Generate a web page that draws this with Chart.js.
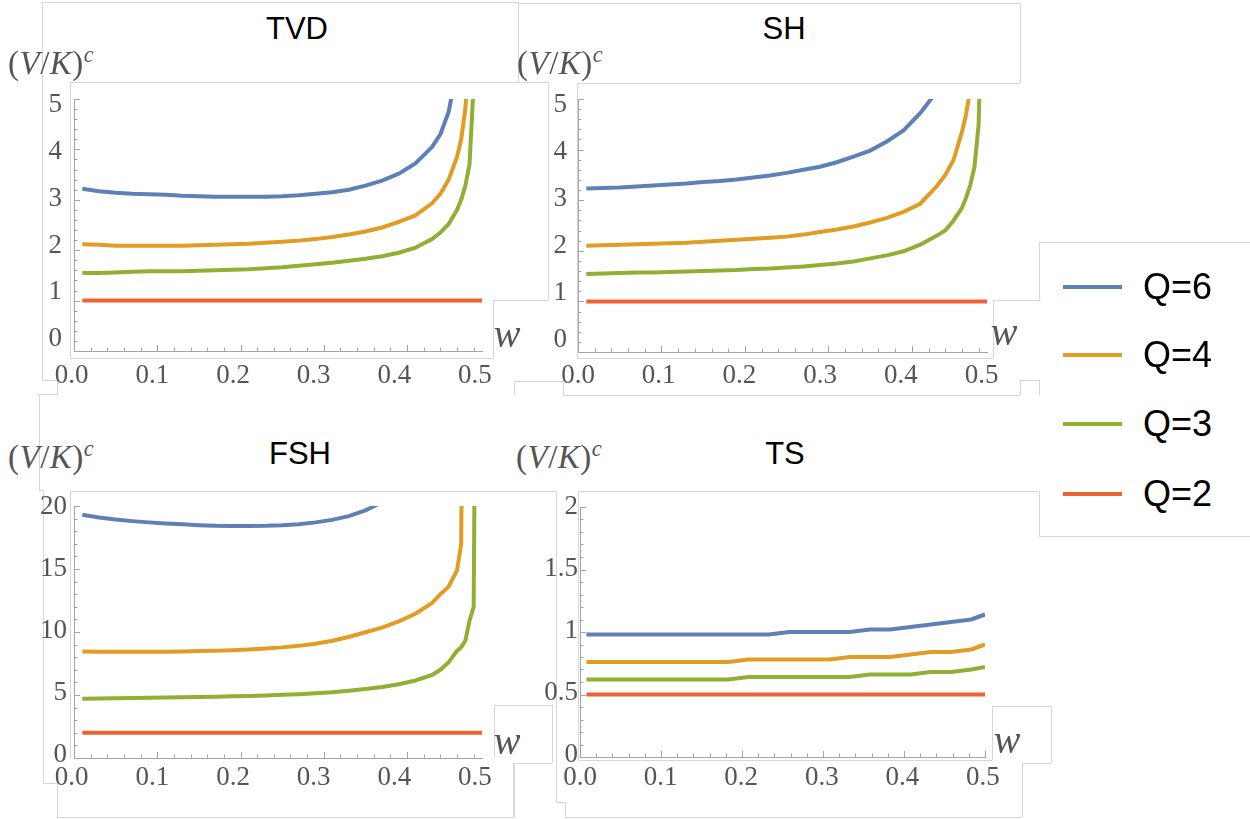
<!DOCTYPE html>
<html>
<head>
<meta charset="utf-8">
<script src="https://cdn.jsdelivr.net/npm/chart.js@4.4.0/dist/chart.umd.min.js"></script>
<style>
  html, body { margin: 0; padding: 0; background: #fff; }
  #stage { position: relative; width: 1250px; height: 819px; overflow: hidden; background: #fff; }
  canvas.plot { position: absolute; }
  .seg { position: absolute; background: #d6d6d6; }
  .title { position: absolute; font-family: "Liberation Sans", Arial, sans-serif; font-size: 31px; color: #000;
           line-height: 1; transform: translate(-50%, -50%); white-space: nowrap; }
  .vk { position: absolute; font-family: "Liberation Serif", "Times New Roman", serif; font-size: 33px; color: #555;
        line-height: 1; transform: translateY(-50%); white-space: nowrap; letter-spacing: 0.5px; }
  .vk sup { font-size: 0.68em; position: relative; top: -0.55em; vertical-align: baseline; font-style: italic; }
  .wl { position: absolute; font-family: "Liberation Serif", "Times New Roman", serif; font-style: italic; font-size: 40px;
        color: #555; line-height: 1; transform: translate(-50%, -50%); }
  .leg { position: absolute; left: 1063px; height: 0; }
  .leg .bar { position: absolute; left: 0; top: -2px; width: 59px; height: 4px; }
  .leg .txt { position: absolute; left: 80px; top: 0; transform: translateY(-50%); font-family: "Liberation Sans", Arial, sans-serif;
              font-size: 36px; line-height: 1; color: #000; white-space: nowrap; }
</style>
</head>
<body>
<div id="stage"></div>
<script>
// --- data ---
const Q_LABELS = ['Q=6', 'Q=4', 'Q=3', 'Q=2'];
const COLORS = ['#5E81B5', '#E19C24', '#8FB032', '#EB6235'];

// w samples for TVD, SH, FSH
const W_MAIN = [0.01, 0.03, 0.05, 0.07, 0.09, 0.11, 0.13, 0.15, 0.17, 0.19, 0.21, 0.23, 0.25, 0.27, 0.29, 0.31,
                0.33, 0.35, 0.37, 0.39, 0.41, 0.43, 0.44, 0.45, 0.46, 0.465, 0.47, 0.475, 0.48, 0.485, 0.49];
// w samples for TS
const W_TS = [0.008, 0.033, 0.058, 0.083, 0.108, 0.133, 0.158, 0.183, 0.208, 0.233, 0.258, 0.283, 0.308, 0.333,
              0.358, 0.383, 0.408, 0.433, 0.458, 0.483, 0.5];

const TVD_Q6 = [3.22, 3.17, 3.14, 3.12, 3.11, 3.10, 3.08, 3.07, 3.06, 3.06, 3.06, 3.06, 3.07, 3.09, 3.12, 3.15,
                3.20, 3.28, 3.38, 3.52, 3.72, 4.05, 4.30, 4.75, 5.6, null, null, null, null, null, null];
const TVD_Q4 = [2.12, 2.11, 2.09, 2.09, 2.09, 2.09, 2.09, 2.10, 2.11, 2.12, 2.13, 2.15, 2.17, 2.19, 2.22, 2.26,
                2.31, 2.37, 2.45, 2.56, 2.69, 2.93, 3.12, 3.40, 3.85, 4.20, 4.80, 6.0, null, null, null];
const TVD_Q3 = [1.55, 1.55, 1.56, 1.57, 1.58, 1.58, 1.58, 1.59, 1.60, 1.61, 1.62, 1.64, 1.66, 1.69, 1.72, 1.75,
                1.79, 1.83, 1.88, 1.95, 2.05, 2.22, 2.35, 2.52, 2.80, 3.00, 3.28, 3.70, 5.3, null, null];
const TVD_Q2 = [1, 1, 1, 1, 1, 1, 1, 1, 1, 1, 1, 1, 1, 1, 1, 1, 1, 1, 1, 1, 1, 1, 1, 1, 1, 1, 1, 1, 1, 1, 1];

const SH_Q6 = [3.23, 3.24, 3.25, 3.27, 3.29, 3.31, 3.33, 3.36, 3.38, 3.41, 3.45, 3.49, 3.54, 3.60, 3.66, 3.75,
               3.86, 3.98, 4.16, 4.38, 4.72, 5.15, null, null, null, null, null, null, null, null, null];
const SH_Q4 = [2.10, 2.11, 2.12, 2.13, 2.14, 2.15, 2.16, 2.18, 2.20, 2.22, 2.24, 2.26, 2.28, 2.32, 2.37, 2.42,
               2.48, 2.56, 2.65, 2.77, 2.93, 3.28, 3.50, 3.80, 4.35, 4.70, 5.2, null, null, null, null];
const SH_Q3 = [1.54, 1.55, 1.56, 1.57, 1.57, 1.58, 1.59, 1.60, 1.61, 1.62, 1.64, 1.65, 1.67, 1.69, 1.72, 1.75,
               1.79, 1.85, 1.91, 1.99, 2.12, 2.30, 2.40, 2.60, 2.85, 3.05, 3.30, 3.66, 4.5, 8.0, null];
const SH_Q2 = [1, 1, 1, 1, 1, 1, 1, 1, 1, 1, 1, 1, 1, 1, 1, 1, 1, 1, 1, 1, 1, 1, 1, 1, 1, 1, 1, 1, 1, 1, 1];

const FSH_Q6 = [19.30, 19.08, 18.92, 18.80, 18.70, 18.62, 18.55, 18.48, 18.43, 18.41, 18.41, 18.43, 18.48, 18.56,
                18.70, 18.90, 19.20, 19.65, 20.3, null, null, null, null, null, null, null, null, null, null, null, null];
const FSH_Q4 = [8.45, 8.44, 8.43, 8.43, 8.43, 8.44, 8.46, 8.49, 8.52, 8.56, 8.62, 8.70, 8.78, 8.90, 9.07, 9.30,
                9.60, 9.98, 10.35, 10.85, 11.45, 12.30, 13.0, 13.6, 14.9, 17.0, 60, null, null, null, null];
const FSH_Q3 = [4.70, 4.72, 4.74, 4.76, 4.78, 4.80, 4.82, 4.84, 4.87, 4.90, 4.93, 4.97, 5.01, 5.06, 5.13, 5.22,
                5.34, 5.48, 5.64, 5.86, 6.15, 6.60, 7.0, 7.6, 8.5, 8.8, 9.3, 10.9, 12.0, 60, null];
const FSH_Q2 = [2, 2, 2, 2, 2, 2, 2, 2, 2, 2, 2, 2, 2, 2, 2, 2, 2, 2, 2, 2, 2, 2, 2, 2, 2, 2, 2, 2, 2, 2, 2];

const TS_Q6 = [0.98, 0.98, 0.98, 0.98, 0.98, 0.98, 0.98, 0.98, 0.98, 0.98, 1.00, 1.00, 1.00, 1.00, 1.02, 1.02,
               1.04, 1.06, 1.08, 1.10, 1.14];
const TS_Q4 = [0.76, 0.76, 0.76, 0.76, 0.76, 0.76, 0.76, 0.76, 0.78, 0.78, 0.78, 0.78, 0.78, 0.80, 0.80, 0.80,
               0.82, 0.84, 0.84, 0.86, 0.90];
const TS_Q3 = [0.62, 0.62, 0.62, 0.62, 0.62, 0.62, 0.62, 0.62, 0.64, 0.64, 0.64, 0.64, 0.64, 0.64, 0.66, 0.66,
               0.66, 0.68, 0.68, 0.70, 0.72];
const TS_Q2 = [0.5, 0.5, 0.5, 0.5, 0.5, 0.5, 0.5, 0.5, 0.5, 0.5, 0.5, 0.5, 0.5, 0.5, 0.5, 0.5, 0.5, 0.5, 0.5, 0.5, 0.5];

// tick labels
const X_TICKS = [0, 0.1, 0.2, 0.3, 0.4, 0.5];
const Y_TICKS_5 = [0, 1, 2, 3, 4, 5];
const Y_TICKS_20 = [0, 5, 10, 15, 20];
const Y_TICKS_2 = [0, 0.5, 1, 1.5, 2];

// --- styling ---
const AXIS_COLOR = '#a3a3a3';
const LABEL_COLOR = '#555';
const SERIF = '"Liberation Serif", "Times New Roman", serif';
const TICK_FONT = 27;

const stage = document.getElementById('stage');

// faint frames of the pasted pieces
const DECOR = [
  [41, 2, 518, 2], [42, 2, 42, 380], [42, 380, 57, 380], [57, 380, 57, 395], [37, 394, 57, 394], [518, 2, 518, 82],
  [70, 82, 548, 82], [70, 82, 70, 358], [548, 82, 548, 300], [493, 300, 548, 300], [493, 300, 493, 358], [70, 358, 493, 358],
  [518, 3, 1020, 3], [1020, 3, 1020, 83], [577, 83, 1020, 83], [577, 83, 577, 358], [577, 358, 993, 358],
  [993, 300, 993, 358], [993, 300, 1041, 300], [514, 381, 563, 381], [514, 381, 514, 395], [563, 381, 563, 395],
  [563, 395, 1020, 395], [1020, 380, 1020, 395], [1020, 380, 1039, 380], [1039, 380, 1039, 395],
  [39, 395, 39, 490], [39, 490, 43, 490], [43, 490, 43, 783], [43, 783, 57, 783], [57, 783, 57, 819], [57, 817, 514, 817],
  [514, 763, 514, 817], [70, 491, 556, 491], [70, 491, 70, 758], [494, 705, 494, 758], [494, 705, 552, 705],
  [552, 705, 552, 763], [513, 763, 552, 763], [513, 763, 513, 817],
  [556, 491, 556, 802], [556, 802, 565, 802], [565, 802, 565, 817], [565, 817, 1022, 817], [1022, 763, 1022, 817],
  [578, 491, 1039, 491], [578, 491, 578, 760], [578, 760, 992, 760], [992, 706, 992, 760], [992, 706, 1051, 706],
  [1051, 706, 1051, 763], [1022, 763, 1051, 763],
  [1039, 242, 1250, 242], [1039, 242, 1039, 300], [1030, 300, 1039, 300], [1039, 492, 1039, 536], [1039, 536, 1250, 536]
];
DECOR.forEach(([x1, y1, x2, y2]) => {
  const d = document.createElement('div');
  d.className = 'seg';
  d.style.left = Math.min(x1, x2) + 'px';
  d.style.top = Math.min(y1, y2) + 'px';
  d.style.width = (Math.abs(x2 - x1) || 1) + 'px';
  d.style.height = (Math.abs(y2 - y1) || 1) + 'px';
  stage.appendChild(d);
});

// inward tick marks, placed through the data scales
const innerTicks = {
  id: 'innerTicks',
  beforeDatasetsDraw(chart) {
    const o = chart.options.plugins.innerTicks;
    const xs = chart.scales.x, ys = chart.scales.y, a = chart.chartArea, ctx = chart.ctx;
    const isMajor = (v, step) => Math.abs(v / step - Math.round(v / step)) < 1e-6;
    ctx.save();
    ctx.strokeStyle = AXIS_COLOR;
    ctx.lineWidth = 1;
    ctx.beginPath();
    const nx = Math.floor(xs.max / o.xMinor + 1e-6);
    for (let k = 1; k <= nx; k++) {
      const v = k * o.xMinor;
      const len = isMajor(v, o.xMajor) ? 6 : 3.5;
      const px = Math.round(xs.getPixelForValue(v)) + 0.5;
      ctx.moveTo(px, a.bottom);
      ctx.lineTo(px, a.bottom - len);
    }
    const ny = Math.floor(ys.max / o.yMinor + 1e-6);
    for (let k = 1; k <= ny; k++) {
      const v = k * o.yMinor;
      const len = isMajor(v, o.yMajor) ? 6 : 3.5;
      const py = Math.round(ys.getPixelForValue(v)) + 0.5;
      ctx.moveTo(a.left, py);
      ctx.lineTo(a.left + len, py);
    }
    ctx.stroke();
    ctx.restore();
  }
};

const PANELS = [
  { title: 'TVD', w: W_MAIN, series: [TVD_Q6, TVD_Q4, TVD_Q3, TVD_Q2], xMax: 0.49, yMax: 5,
    xMajor: 0.1, xMinor: 0.02, yMajor: 1, yMinor: 0.2, yTicks: Y_TICKS_5,
    xl: [0.00285, 0.5087], yl: [-0.256, 5.128], xPad: 9, yPad: 12,
    box: [0, 69, 506, 327], titleAt: [297, 28], vkAt: [8, 63], wAt: [507, 334] },
  { title: 'SH', w: W_MAIN, series: [SH_Q6, SH_Q4, SH_Q3, SH_Q2], xMax: 0.49, yMax: 5,
    xMajor: 0.1, xMinor: 0.02, yMajor: 1, yMinor: 0.2, yTicks: Y_TICKS_5,
    xl: [0, 0.5066], yl: [-0.255, 5.128], xPad: 8, yPad: 11,
    box: [504, 69, 507, 328], titleAt: [784, 28], vkAt: [517, 63], wAt: [1004, 332] },
  { title: 'FSH', w: W_MAIN, series: [FSH_Q6, FSH_Q4, FSH_Q3, FSH_Q2], xMax: 0.49, yMax: 20,
    xMajor: 0.1, xMinor: 0.02, yMajor: 5, yMinor: 1, yTicks: Y_TICKS_20,
    xl: [0.00285, 0.5087], yl: [-0.24, 20.06], xPad: 4, yPad: 7,
    box: [0, 476, 506, 327], titleAt: [300, 453], vkAt: [8, 457], wAt: [507, 741] },
  { title: 'TS', w: W_TS, series: [TS_Q6, TS_Q4, TS_Q3, TS_Q2], xMax: 0.5, yMax: 2,
    xMajor: 0.1, xMinor: 0.02, yMajor: 0.5, yMinor: 0.1, yTicks: Y_TICKS_2,
    xl: [0, 0.5025], yl: [-0.016, 2.0], xPad: 5, yPad: 2,
    box: [506, 477, 503, 325], titleAt: [785, 453], vkAt: [516, 457], wAt: [1007, 740] }
];

function addText(cls, html, x, y) {
  const d = document.createElement('div');
  d.className = cls;
  d.innerHTML = html;
  d.style.left = x + 'px';
  d.style.top = y + 'px';
  stage.appendChild(d);
}

PANELS.forEach(p => {
  const [cx, cy, cw, ch] = p.box;
  const cv = document.createElement('canvas');
  cv.className = 'plot';
  cv.width = cw; cv.height = ch;
  cv.style.left = cx + 'px'; cv.style.top = cy + 'px';
  stage.appendChild(cv);

  new Chart(cv, {
    type: 'line',
    data: {
      datasets: p.series.map((vals, k) => ({
        label: Q_LABELS[k],
        data: p.w.map((x, i) => ({ x: x, y: vals[i] })),
        borderColor: COLORS[k],
        borderWidth: 4,
        pointRadius: 0,
        tension: 0,
        fill: false,
        clip: 0,
        xAxisID: 'x',
        yAxisID: 'y'
      })).reverse()
    },
    options: {
      responsive: false,
      animation: false,
      devicePixelRatio: 1,
      events: [],
      layout: { padding: { top: 30, right: 24, left: 0, bottom: 0 } },
      plugins: {
        legend: { display: false },
        tooltip: { enabled: false },
        innerTicks: { xMajor: p.xMajor, xMinor: p.xMinor, yMajor: p.yMajor, yMinor: p.yMinor }
      },
      scales: {
        x: { type: 'linear', display: false, min: 0, max: p.xMax },
        y: { type: 'linear', display: false, min: 0, max: p.yMax },
        xl: {
          type: 'linear', position: 'bottom', min: p.xl[0], max: p.xl[1],
          afterBuildTicks: s => { s.ticks = X_TICKS.map(v => ({ value: v })); },
          afterFit: s => { s.height = 45; },
          grid: { display: true, drawOnChartArea: false, drawTicks: false },
          border: { display: true, color: AXIS_COLOR, width: 1 },
          ticks: { autoSkip: false, maxRotation: 0, padding: p.xPad, color: LABEL_COLOR,
                   font: { family: SERIF, size: TICK_FONT }, callback: v => v.toFixed(1) }
        },
        yl: {
          type: 'linear', position: 'left', min: p.yl[0], max: p.yl[1],
          afterBuildTicks: s => { s.ticks = p.yTicks.map(v => ({ value: v })); },
          afterFit: s => { s.width = 74; },
          grid: { display: true, drawOnChartArea: false, drawTicks: false },
          border: { display: true, color: AXIS_COLOR, width: 1 },
          ticks: { autoSkip: false, padding: p.yPad, color: LABEL_COLOR,
                   font: { family: SERIF, size: TICK_FONT }, callback: v => String(v) }
        }
      }
    },
    plugins: [innerTicks]
  });

  addText('title', p.title, p.titleAt[0], p.titleAt[1]);
  addText('vk', '(<i>V</i>/<i>K</i>)<sup>c</sup>', p.vkAt[0], p.vkAt[1]);
  addText('wl', 'w', p.wAt[0], p.wAt[1]);
});

// legend
const LEGEND_Y = [287, 355, 424, 494];
Q_LABELS.forEach((q, k) => {
  const row = document.createElement('div');
  row.className = 'leg';
  row.style.top = LEGEND_Y[k] + 'px';
  row.innerHTML = '<div class="bar" style="background:' + COLORS[k] + '"></div><div class="txt">' + q + '</div>';
  stage.appendChild(row);
});
</script>
</body>
</html>
